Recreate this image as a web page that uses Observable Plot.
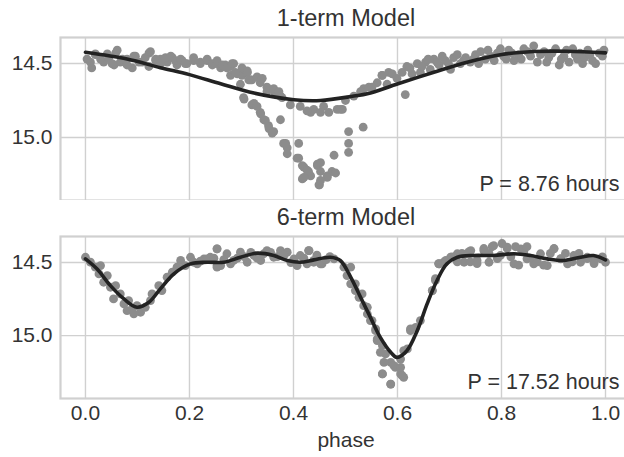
<!DOCTYPE html>
<html><head><meta charset="utf-8">
<script src="https://cdn.jsdelivr.net/npm/d3@7"></script>
<script src="https://cdn.jsdelivr.net/npm/@observablehq/plot@0.6"></script>
<style>
html,body{margin:0;padding:0;background:#fff;overflow:hidden;}
#chart svg{display:block;}
</style></head><body><div id="chart"></div>
<script>
// ---- Panel titles & annotations ----
const titles = ["1-term Model", "6-term Model"];
const notes = ["P = 8.76 hours", "P = 17.52 hours"];
const xTicks = [0.0, 0.2, 0.4, 0.6, 0.8, 1.0];
const yTicks = [14.5, 15.0];
const xLabel = "phase";

// ---- Top panel (1-term) observed points ----
const topPhase = [0.003,0.012,0.019,0.035,0.045,0.055,0.058,0.067,0.080,0.090,0.096,0.109,0.122,0.122,0.135,0.144,0.157,0.167,0.176,0.186,0.195,0.208,0.221,0.234,0.244,0.253,0.260,0.269,0.279,0.285,0.292,0.301,0.311,0.320,0.336,0.349,0.365,0.375,0.305,0.320,0.336,0.343,0.352,0.362,0.375,0.381,0.388,0.410,0.407,0.420,0.417,0.433,0.449,0.446,0.465,0.478,0.474,
0.272,0.298,0.311,0.317,0.330,0.340,0.349,0.362,0.372,0.378,0.304,0.324,0.330,0.337,0.298,0.279,
0.346,0.353,0.359,0.385,0.388,0.410,0.417,0.420,0.429,0.446,0.452,0.450,0.465,0.481,0.506,0.506,0.506,0.534,
0.394,0.413,0.433,0.439,0.458,0.468,0.484,0.494,0.500,0.516,0.535,0.545,0.561,0.570,0.580,0.583,
0.426,0.452,0.490,0.529,0.551,0.571,0.590,0.599,0.609,0.615,0.618,0.628,0.638,0.644,0.654,0.663,0.670,0.680,0.692,0.702,0.708,0.721,0.731,0.740,0.750,0.760,0.769,0.779,0.792,0.804,0.814,0.824,0.833,0.843,0.856,0.862,0.869,0.882,0.891,0.904,0.911,0.920,0.930,0.937,0.946,0.956,0.966,0.975,0.981,0.994,0.997,
0.452,0.452,0.426,
0.0096,0.019,0.029,0.042,0.051,0.061,0.071,0.080,0.093,0.103,0.115,0.125,0.135,0.144,0.154,0.164,0.173,0.183,0.192,0.208,0.221,0.234,0.244,0.253,0.263,0.272,0.282,0.288,0.301,0.311,0.314,
0.624,0.647,0.659,0.676,0.686,0.698,0.715,0.727,0.746,0.756,0.774,0.786,0.798,0.809,0.820,0.838,0.850,0.875,0.887,0.897,0.915,0.925,0.942,0.951,0.960,0.970,0.988];
const topMag = [14.47,14.53,14.44,14.49,14.46,14.51,14.43,14.49,14.47,14.53,14.45,14.49,14.43,14.52,14.48,14.47,14.49,14.46,14.51,14.48,14.50,14.48,14.50,14.48,14.51,14.50,14.53,14.51,14.52,14.50,14.57,14.58,14.56,14.61,14.63,14.69,14.70,14.72,14.74,14.78,14.83,14.88,14.92,14.96,14.88,15.04,15.07,15.04,15.14,15.20,15.28,15.26,15.32,15.18,15.26,15.12,15.23,
14.52,14.57,14.55,14.61,14.59,14.60,14.66,14.67,14.69,14.73,14.73,14.77,14.79,14.84,14.64,14.58,
14.885,14.94,14.97,15.04,15.11,15.14,15.19,15.27,15.23,15.19,15.23,15.32,15.27,15.24,14.96,15.04,15.10,14.93,
14.78,14.79,14.83,14.81,14.79,14.83,14.81,14.81,14.75,14.72,14.67,14.66,14.63,14.58,14.64,14.56,
14.82,14.83,14.81,14.69,14.66,14.58,14.57,14.60,14.56,14.71,14.52,14.57,14.50,14.56,14.49,14.54,14.47,14.51,14.48,14.54,14.46,14.50,14.46,14.49,14.44,14.42,14.47,14.45,14.43,14.45,14.41,14.48,14.44,14.40,14.45,14.38,14.49,14.42,14.46,14.40,14.51,14.45,14.49,14.40,14.47,14.50,14.41,14.48,14.50,14.45,14.41,
15.17,15.29,15.22,
14.49,14.435,14.47,14.435,14.50,14.41,14.47,14.51,14.45,14.49,14.46,14.42,14.47,14.50,14.46,14.45,14.48,14.47,14.50,14.46,14.49,14.47,14.50,14.48,14.51,14.53,14.50,14.56,14.53,14.56,14.61,
14.53,14.52,14.47,14.49,14.45,14.50,14.44,14.48,14.47,14.50,14.41,14.48,14.40,14.47,14.43,14.47,14.42,14.44,14.49,14.43,14.47,14.41,14.44,14.43,14.46,14.44,14.43];

// ---- Top panel 1-term model curve ----
const fit1Phase = [0.000,0.080,0.144,0.200,0.260,0.324,0.401,0.452,0.516,0.542,0.601,0.670,0.734,0.801,0.862,0.926,1.000];
const fit1Mag   = [14.424,14.470,14.528,14.575,14.637,14.700,14.745,14.750,14.720,14.705,14.637,14.559,14.491,14.439,14.419,14.417,14.428];

// ---- Bottom panel (6-term) observed points ----
const botPhase = [0.000,0.0096,0.019,0.029,0.026,0.042,0.035,0.048,0.058,0.054,0.067,0.074,0.083,0.090,0.099,0.106,0.115,0.125,0.128,0.141,0.147,0.157,0.167,0.176,0.183,0.192,0.202,0.215,0.228,0.240,0.253,0.253,0.080,0.093,
0.208,0.234,0.253,0.260,0.272,0.285,0.298,0.311,0.324,0.337,0.349,0.362,0.375,0.388,0.401,0.407,0.430,0.439,0.455,0.253,0.279,
0.413,0.429,0.439,0.452,0.426,0.497,0.503,0.510,0.519,0.526,0.535,0.542,0.551,0.558,0.561,0.571,0.577,0.571,0.587,0.587,0.596,0.606,0.612,0.606,0.619,0.625,0.635,0.644,0.667,0.673,0.680,0.689,0.702,0.715,0.728,0.741,0.753,0.766,0.776,0.785,0.798,0.811,0.824,0.837,0.849,0.862,0.875,0.888,0.901,0.914,0.927,0.939,0.952,0.965,0.978,0.991,1.000,
0.478,0.510,0.519,0.532,0.542,0.548,0.558,0.561,0.567,0.574,0.571,0.587,0.593,0.606,0.609,0.612,0.625,0.667,0.680,0.693,
0.673,0.679,0.692,0.705,0.715,0.724,0.737,0.740,0.753,0.766,0.776,0.782,0.792,0.801,0.811,0.818,0.827,0.833,0.843,0.849,0.859,0.869,0.881,0.894,0.901,0.914,0.923,0.936,0.949,0.965,0.978,0.994,
0.221,0.247,0.266,0.292,0.305,0.318,0.330,0.343,0.356,0.369,0.382,0.395,0.420,0.445,0.463,0.470];
const botMag = [14.464,14.498,14.532,14.521,14.578,14.589,14.635,14.669,14.658,14.749,14.715,14.783,14.760,14.817,14.795,14.840,14.806,14.760,14.715,14.658,14.692,14.600,14.566,14.532,14.486,14.521,14.464,14.509,14.475,14.464,14.406,14.521,14.829,14.851,
14.498,14.475,14.406,14.521,14.440,14.486,14.429,14.498,14.452,14.486,14.418,14.464,14.418,14.429,14.475,14.521,14.418,14.486,14.509,14.532,14.509,
14.452,14.418,14.498,14.509,14.509,14.532,14.589,14.646,14.692,14.738,14.795,14.852,14.897,14.954,15.023,15.068,15.125,15.262,15.183,15.331,15.217,15.262,15.285,15.160,15.091,14.966,14.943,14.897,14.692,14.623,14.509,14.498,14.464,14.440,14.498,14.418,14.486,14.418,14.498,14.384,14.452,14.395,14.509,14.406,14.475,14.509,14.440,14.521,14.406,14.475,14.509,14.452,14.498,14.464,14.486,14.475,14.498,
14.475,14.532,14.646,14.715,14.806,14.897,14.966,15.034,15.114,15.183,15.262,15.331,15.205,15.217,15.274,15.103,14.954,14.692,14.509,14.486,
14.61,14.507,14.495,14.461,14.495,14.438,14.427,14.495,14.507,14.404,14.438,14.392,14.473,14.37,14.404,14.461,14.392,14.518,14.427,14.392,14.473,14.495,14.518,14.438,14.404,14.473,14.438,14.495,14.438,14.473,14.507,14.461,
14.49,14.47,14.48,14.47,14.46,14.43,14.47,14.44,14.43,14.46,14.45,14.50,14.47,14.45,14.48,14.46];

// ---- Bottom panel 6-term model curve ----
const fit6Phase = [0.000,0.022,0.048,0.074,0.099,0.122,0.144,0.170,0.202,0.234,0.266,0.298,0.330,0.362,0.388,0.413,0.439,0.471,0.490,0.510,0.529,0.548,0.567,0.587,0.599,0.618,0.638,0.657,0.676,0.695,0.715,0.747,0.785,0.824,0.856,0.888,0.920,0.952,0.977,1.000];
const fit6Mag   = [14.475,14.543,14.658,14.749,14.806,14.772,14.680,14.577,14.509,14.498,14.498,14.464,14.436,14.452,14.486,14.498,14.482,14.464,14.486,14.600,14.738,14.875,15.012,15.114,15.149,15.103,14.966,14.783,14.623,14.509,14.464,14.452,14.452,14.440,14.452,14.475,14.486,14.464,14.452,14.482];

const FONT = "'Liberation Sans', Arial, Helvetica, sans-serif";
const TXT = "#333";
const GRID = "#d0d0d0";

function toRows(px, py) { return px.map((p, i) => ({phase: p, mag: py[i]})); }

function panel({pts, fit, title, note, height, marginTop, marginBottom, showX, yDomain}) {
  const marks = [
    Plot.gridX(xTicks, {stroke: GRID, strokeOpacity: 1, strokeWidth: 1.4}),
    Plot.gridY(yTicks, {stroke: GRID, strokeOpacity: 1, strokeWidth: 1.4}),
    Plot.frame({stroke: GRID, strokeWidth: 2.2}),
    Plot.axisY(yTicks, {tickSize: 0, tickPadding: 8, tickFormat: d => d.toFixed(1), fontSize: 21, fill: TXT, label: null}),
    Plot.dot(pts, {x: "phase", y: "mag", r: 4.4, fill: "#8c8c8c", stroke: null}),
    Plot.line(fit, {x: "phase", y: "mag", stroke: "#222", strokeWidth: 3.6, curve: "catmull-rom"}),
    Plot.text([title], {frameAnchor: "top", lineAnchor: "bottom", dy: -12, fontSize: 23.5, fill: TXT}),
    Plot.text([note], {frameAnchor: "bottom-right", textAnchor: "end", lineAnchor: "bottom", dx: -12, dy: -10, fontSize: 21.5, fill: TXT})
  ];
  if (showX) {
    marks.push(Plot.axisX(xTicks, {tickSize: 0, tickPadding: 7, tickFormat: d => d.toFixed(1), fontSize: 21, fill: TXT, label: null}));
    marks.push(Plot.text([xLabel], {frameAnchor: "bottom", lineAnchor: "top", dy: 34, fontSize: 21, fill: TXT}));
  } else {
    marks.push(Plot.axisX([], {tickSize: 0, label: null}));
  }
  return Plot.plot({
    width: 624, height, marginTop, marginBottom, marginLeft: 60, marginRight: -7,
    style: {fontFamily: FONT, background: "white", color: TXT},
    x: {domain: [-0.048, 1.05]},
    y: {domain: yDomain, reverse: true},
    marks
  });
}

const chart = document.getElementById("chart");
chart.appendChild(panel({
  pts: toRows(topPhase, topMag), fit: toRows(fit1Phase, fit1Mag),
  title: titles[0], note: notes[0], height: 200, marginTop: 37, marginBottom: 0, showX: false,
  yDomain: [14.324, 15.426]
}));
chart.appendChild(panel({
  pts: toRows(botPhase, botMag), fit: toRows(fit6Phase, fit6Mag),
  title: titles[1], note: notes[1], height: 257, marginTop: 36, marginBottom: 59, showX: true,
  yDomain: [14.322, 15.43]
}));
</script></body></html>
